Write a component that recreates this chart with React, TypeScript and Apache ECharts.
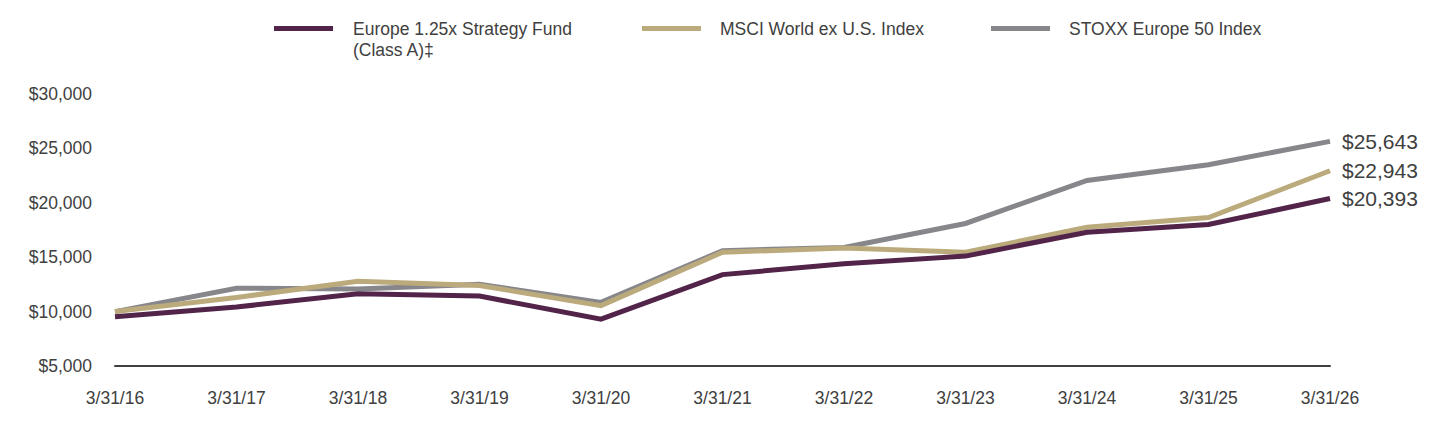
import React, { useEffect, useRef } from "react";
import * as echarts from "echarts";

const categories = ["3/31/16", "3/31/17", "3/31/18", "3/31/19", "3/31/20", "3/31/21", "3/31/22", "3/31/23", "3/31/24", "3/31/25", "3/31/26"];
const fundValues = [9525, 10420, 11650, 11430, 9300, 13400, 14400, 15100, 17300, 18000, 20393];
const msciValues = [10000, 11300, 12780, 12400, 10550, 15450, 15850, 15450, 17750, 18650, 22943];
const stoxxValues = [10000, 12150, 12080, 12520, 10850, 15600, 15900, 18100, 22050, 23500, 25643];
const seriesNames = ["Europe 1.25x Strategy Fund\n(Class A)‡", "MSCI World ex U.S. Index", "STOXX Europe 50 Index"];
const colors = ["#522449", "#BBAB7C", "#87868B"];

const FONT = "'Liberation Sans', Arial, sans-serif";
const TEXT = "#404040";

const fmt = (v: number) => "$" + v.toLocaleString("en-US");

export default function App() {
  const ref = useRef<HTMLDivElement>(null);
  useEffect(() => {
    if (!ref.current) return;
    const chart = echarts.init(ref.current, undefined, { renderer: "svg" });
    const legendX = [266, 634, 983];
    const legendTextX = [345, 712, 1061];
    const mk = (name: string, data: number[], color: string, z: number) => ({
      name,
      type: "line",
      data,
      symbol: "none",
      z,
      lineStyle: { color, width: 5, join: "miter" },
      itemStyle: { color },
      endLabel: {
        show: true,
        formatter: (p: any) => fmt(p.value),
        color: TEXT,
        fontSize: 21,
        fontFamily: FONT,
        distance: 12,
      },
    });
    chart.setOption({
      animation: false,
      textStyle: { fontFamily: FONT },
      grid: { left: 107, right: 102, top: 86, bottom: 74 },
      xAxis: {
        type: "category",
        data: categories,
        boundaryGap: false,
        axisLine: { show: true, lineStyle: { color: "#404040", width: 2 } },
        axisTick: { show: false },
        axisLabel: { color: TEXT, fontSize: 17.5, fontFamily: FONT, margin: 23 },
        splitLine: { show: false },
      },
      yAxis: {
        type: "value",
        min: 5000,
        max: 30000,
        interval: 5000,
        axisLine: { show: false },
        axisTick: { show: false },
        splitLine: { show: false },
        axisLabel: { color: TEXT, fontSize: 17.5, fontFamily: FONT, margin: 23, formatter: (v: number) => fmt(v) },
      },
      graphic: seriesNames.flatMap((n, i) => [
        { type: "rect", left: legendX[i], top: 18, shape: { width: 59, height: 5 }, style: { fill: colors[i] } },
        {
          type: "text",
          left: legendTextX[i],
          top: 10,
          style: { text: n, fill: TEXT, fontSize: 17.5, fontFamily: FONT, lineHeight: 21 },
        },
      ]),
      series: [
        mk(seriesNames[2], stoxxValues, colors[2], 1),
        mk(seriesNames[1], msciValues, colors[1], 2),
        mk(seriesNames[0], fundValues, colors[0], 3),
      ],
    });
    return () => chart.dispose();
  }, []);
  return <div ref={ref} style={{ width: 1424, height: 432 }} />;
}
